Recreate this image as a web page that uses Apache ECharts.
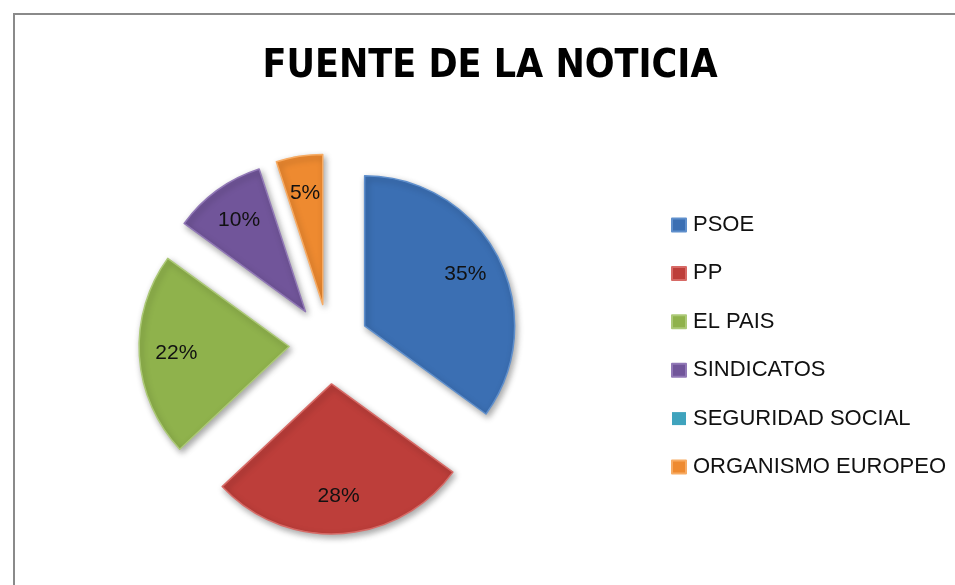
<!DOCTYPE html>
<html>
<head>
<meta charset="utf-8" />
<title>Fuente de la noticia</title>
<script src="https://cdn.jsdelivr.net/npm/echarts@6/dist/echarts.min.js"></script>
<style type="text/css">
  html, body { margin: 0; padding: 0; background: #fff; }
  #main { width: 955px; height: 585px; }
</style>
</head>
<body>
<div id="main"></div>
<script>
// datos
var categories = ['PSOE', 'PP', 'EL PAIS', 'SINDICATOS', 'SEGURIDAD SOCIAL', 'ORGANISMO EUROPEO'];
var values = [35, 28, 22, 10, 0, 5];
var colors = ['#3b6fb3', '#bd3e3a', '#8fb24c', '#71559a', '#3fa3bd', '#ee8a30'];
var borders = ['#5f8fcc', '#d76a66', '#acc977', '#9178b6', '#6fc1d6', '#f7ab63'];

var titleFont = '"DejaVu Sans Condensed", "DejaVu Sans", sans-serif';
var font = '"Liberation Sans", Arial, sans-serif';

var pieData = [], labelData = [];
for (var i = 0; i < categories.length; i++) {
  pieData.push({
    name: categories[i],
    value: values[i],
    selected: true,
    itemStyle: { color: colors[i], borderColor: borders[i], borderWidth: values[i] > 0 ? 1.5 : 0 }
  });
  labelData.push({
    name: categories[i],
    value: values[i],
    selected: true,
    label: { show: values[i] > 0 }
  });
}

var chart = echarts.init(document.getElementById('main'));
chart.setOption({
  animation: false,
  backgroundColor: '#fff',
  title: {
    text: 'FUENTE DE LA NOTICIA',
    left: 485,
    top: 42,
    textAlign: 'center',
    textStyle: { fontFamily: titleFont, fontWeight: 'bold', fontSize: 39, color: '#000' }
  },
  legend: {
    orient: 'vertical',
    left: 666,
    top: 209,
    itemWidth: 14,
    itemHeight: 13,
    itemGap: 26.4,
    icon: 'rect',
    data: categories,
    selectedMode: false,
    textStyle: { fontFamily: font, fontSize: 22, color: '#111', lineHeight: 22, padding: [0, 0, 0, 2] }
  },
  graphic: [{
    type: 'rect',
    shape: { x: 14, y: 14, width: 1000, height: 1000 },
    style: { fill: 'none', stroke: '#8a8a8a', lineWidth: 2 },
    silent: true
  }],
  series: [
    {
      name: 'Fuente',
      type: 'pie',
      center: [329, 344],
      radius: [0, 150],
      startAngle: 90,
      selectedMode: 'multiple',
      selectedOffset: 40,
      label: { show: false },
      labelLine: { show: false },
      emphasis: { disabled: true },
      itemStyle: {
        shadowBlur: 6,
        shadowOffsetX: 2,
        shadowOffsetY: 3,
        shadowColor: 'rgba(0,0,0,0.35)'
      },
      data: pieData
    },
    {
      name: 'Etiquetas',
      type: 'pie',
      center: [329, 344],
      radius: [70, 150],
      startAngle: 90,
      selectedMode: 'multiple',
      selectedOffset: 40,
      silent: true,
      itemStyle: { color: 'rgba(0,0,0,0)' },
      emphasis: { disabled: true },
      labelLine: { show: false },
      label: {
        position: 'inside',
        formatter: '{d}%',
        fontFamily: font,
        fontSize: 21,
        color: '#111'
      },
      data: labelData
    }
  ]
});
</script>
</body>
</html>
